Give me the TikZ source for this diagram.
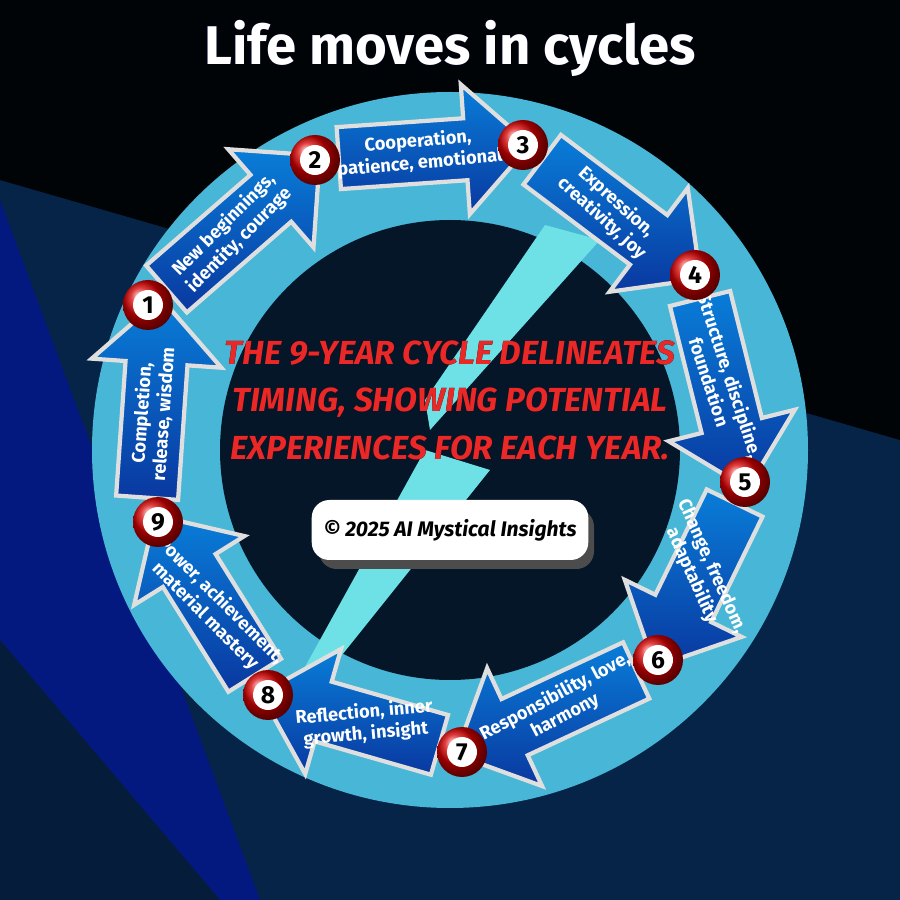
\documentclass[tikz,border=0pt]{standalone}
\usepackage{fontspec}
\setmainfont{Fira Sans}
\usepackage[outline]{contour}
\usetikzlibrary{shapes.arrows,calc}
\definecolor{navy}{RGB}{6,36,72}
\definecolor{ringc}{RGB}{72,182,214}
\definecolor{hubc}{RGB}{4,22,40}
\definecolor{arrowc}{RGB}{12,70,200}
\definecolor{needlec}{RGB}{110,225,230}
\definecolor{redtxt}{RGB}{235,40,40}
\tikzset{
  step/.style={single arrow, draw=gray!25, line width=1.2pt, top color=arrowc!70!cyan,
    bottom color=arrowc!80!black, minimum width=1.3cm, minimum height=#1,
    single arrow head extend=0.22cm, inner sep=0.18cm},
  steptext/.style={text=white, font=\bfseries\fontsize{5.2}{6.2}\selectfont,
    align=center},
  ball/.style={circle, ball color=red!85!black, minimum size=0.5cm, inner sep=0pt},
  balltext/.style={circle, fill=white, minimum size=0.3cm, inner sep=0pt,
    font=\bfseries\fontsize{7}{7}\selectfont},
}
\begin{document}
\begin{tikzpicture}
  % fondo
  \fill[navy] (0,0) rectangle (9,9);
  \fill[black!90!navy] (0,9) -- (9,9) -- (9,4.6) -- (0,7.2) -- cycle;
  \fill[blue!30!navy] (0,0) -- (0,7.0) -- (2.6,0) -- cycle;
  \fill[navy!80!black] (0,0) -- (0,2.6) -- (2.2,0) -- cycle;
  \useasboundingbox (0,0) rectangle (9,9);

  % anillo
  \coordinate (c) at (4.5,4.5);
  \fill[ringc] (c) circle (3.58);
  \fill[hubc] (c) circle (2.3);

  % aguja
  \fill[needlec] (5.45,6.75) -- (6.0,6.6) -- (4.3,4.7) -- (4.25,5.0) -- cycle;
  \fill[needlec] (4.25,4.5) -- (4.9,4.3) -- (3.1,2.05) -- (2.95,2.15) -- cycle;

  % titulo
  \node (title) at (4.5,8.52) {\contourlength{1.2pt}\contour{blue!45!black}{\color{white}\bfseries\fontsize{15.5}{18}\selectfont Life moves in cycles}};

  % bolas
  \foreach \n/\x/\y in {1/1.48/5.95, 2/3.15/7.40, 3/5.23/7.55, 4/6.95/6.25, 5/7.45/4.18,
                        6/6.58/2.40, 7/4.62/1.48, 8/2.68/2.05, 9/1.58/3.78}
    \coordinate (p\n) at (\x,\y);

  % flechas
  \foreach \a/\b/\ang/\tang/\txt in {
      1/2/41/45/{New beginnings,\\ identity, courage},
      2/3/4/5/{Cooperation,\\ patience, emotional},
      3/4/-37/-42/{Expression,\\ creativity, joy},
      4/5/-76/-72/{Structure, discipline,\\ foundation},
      5/6/-116/-66/{Change, freedom,\\ adaptability},
      6/7/-155/28/{Responsibility, love,\\ harmony},
      7/8/164/5/{Reflection, inner\\ growth, insight},
      8/9/122/-45/{Power, achievement,\\ material mastery},
      9/1/86/86/{Completion,\\ release, wisdom}} {
    \path let \p1=($(p\b)-(p\a)$), \n1={veclen(\x1,\y1)} in
      node[step=\n1*0.92, rotate=\ang] (arr\a) at ($(p\a)!0.5!(p\b)$) {};
    \node[steptext, rotate=\tang] (lab\a) at (arr\a.center) {\txt};
  }
  \foreach \n in {1,...,9} {
    \node[ball] (b\n) at (p\n) {};
    \node[balltext] (n\n) at (p\n) {\n};
  }

  % texto central
  \node[font=\bfseries\itshape\fontsize{9.5}{13.5}\selectfont, align=center] (msg) at (4.5,5.0)
    {\contourlength{0.6pt}\contour{black}{\color{redtxt}THE 9-YEAR CYCLE DELINEATES}\\
     \contourlength{0.6pt}\contour{black}{\color{redtxt}TIMING, SHOWING POTENTIAL}\\
     \contourlength{0.6pt}\contour{black}{\color{redtxt}EXPERIENCES FOR EACH YEAR.}};
  \fill[black!70, rounded corners=5pt] (3.19,3.31) rectangle (5.94,3.91);
  \node[fill=white, rounded corners=5pt, minimum width=2.75cm, minimum height=0.6cm,
        font=\bfseries\itshape\fontsize{6}{7}\selectfont] (copy) at (4.5,3.7)
    {© 2025 AI Mystical Insights};
\end{tikzpicture}
\end{document}
